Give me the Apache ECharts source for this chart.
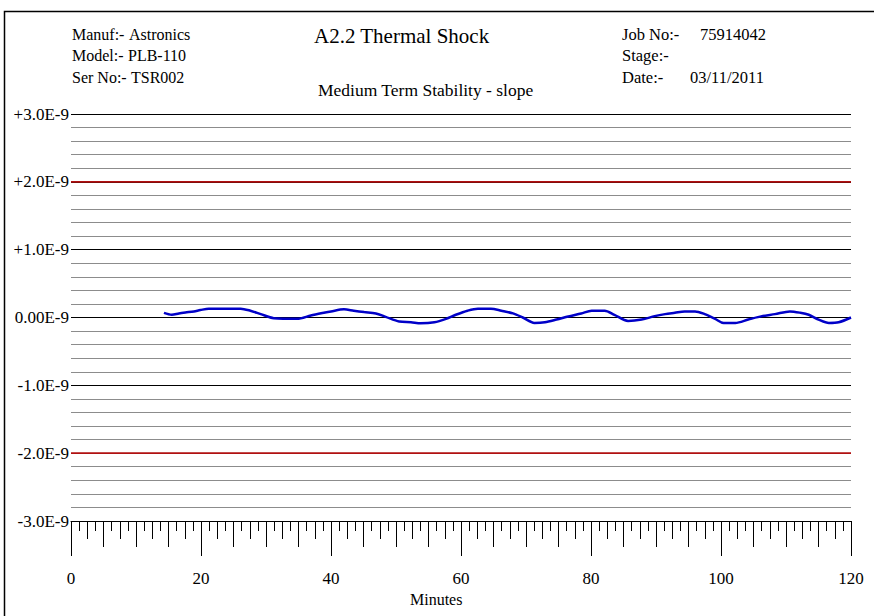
<!DOCTYPE html>
<html>
<head>
<meta charset="utf-8">
<script src="https://cdn.jsdelivr.net/npm/echarts@6/dist/echarts.min.js"></script>
<style>
html,body{margin:0;padding:0;background:#fff;}
#chart{width:874px;height:616px;}
</style>
</head>
<body>
<div id="chart"></div>
<script>
// Data (slope in units of 1E-9)
const minutes = [14.3,15.5,16.6,17.6,18.9,19.9,21.2,26.1,27.6,29.2,31.2,34.8,36.9,38.9,40.0,42.0,43.5,45.1,46.9,48.4,50.5,52.3,53.8,55.9,57.7,59.2,61.0,62.6,64.6,66.2,68.0,69.5,71.3,72.9,74.7,76.5,78.5,80.1,82.1,83.6,85.7,87.8,89.8,91.4,92.9,94.4,96.0,97.5,99.1,100.4,102.2,104.2,106.3,108.3,110.6,112.2,113.5,115.0,116.6,118.1,120.0];
const slopeE9 = [0.068,0.04,0.06,0.074,0.09,0.11,0.13,0.13,0.10,0.05,-0.01,-0.02,0.03,0.07,0.09,0.12,0.10,0.08,0.06,0.01,-0.06,-0.07,-0.085,-0.07,-0.02,0.04,0.10,0.13,0.13,0.10,0.06,0.0,-0.08,-0.07,-0.03,0.015,0.06,0.10,0.10,0.04,-0.05,-0.03,0.02,0.05,0.07,0.09,0.09,0.05,-0.02,-0.08,-0.08,-0.03,0.02,0.05,0.09,0.07,0.04,-0.03,-0.08,-0.07,0.0];
const limitLines = [2, -2];
const xRange = [0, 120];
const yTickLabels = {'3':'+3.0E-9','2':'+2.0E-9','1':'+1.0E-9','0':'0.00E-9','-1':'-1.0E-9','-2':'-2.0E-9','-3':'-3.0E-9'};
const xTickLabels = ['0','20','40','60','80','100','120'];
const headerLeft = [['Manuf:-','Astronics'],['Model:-','PLB-110'],['Ser No:-','TSR002']];
const headerRight = [['Job No:-','75914042'],['Stage:-',''],['Date:-','03/11/2011']];
const chartTitle = 'A2.2 Thermal Shock';
const chartSubtitle = 'Medium Term Stability - slope';
const xName = 'Minutes';

const FONT = 'Liberation Serif';
const chart = echarts.init(document.getElementById('chart'), null, {renderer:'svg'});

const grid = {left:71, right:23, top:114, bottom:95};
function tickAxis(interval, len, showLabel){
  return {
    type:'value', min:0, max:120, interval:interval, position:'bottom', gridIndex:0,
    axisLine:{show:showLabel, onZero:false, lineStyle:{color:'#000', width:1}},
    axisTick:{show:true, length:len, inside:false, lineStyle:{color:'#000', width:1}},
    splitLine:{show:false},
    axisLabel: showLabel ? {show:true, margin:49, color:'#000', fontFamily:FONT, fontSize:17,
      formatter:function(v){ const s=String(v); return xTickLabels.indexOf(s)>=0? s : ''; }} : {show:false}
  };
}

const graphics = [
  {type:'rect', shape:{x:4.5, y:11.5, width:900, height:700}, style:{fill:'none', stroke:'#000', lineWidth:1.5}, silent:true}
];
const rowY = [35, 56, 78];
const HF = '16px ' + FONT;
const HFR = '16.5px ' + FONT;
headerLeft.forEach((r,i)=>{
  graphics.push({type:'text', left:72, top:rowY[i]-9, style:{text:r[0], font:HF, fill:'#000'}});
  graphics.push({type:'text', left:[129,128,131][i], top:rowY[i]-9, style:{text:r[1], font:HF, fill:'#000'}});
});
headerRight.forEach((r,i)=>{
  graphics.push({type:'text', left:622, top:rowY[i]-9, style:{text:r[0], font:HFR, fill:'#000'}});
  if(r[1]) graphics.push({type:'text', left:[700,0,690][i], top:rowY[i]-9, style:{text:r[1], font:HFR, fill:'#000'}});
});
graphics.push({type:'text', left:314, top:25, style:{text:chartTitle, font:'21px '+FONT, fill:'#000'}});
graphics.push({type:'text', left:318, top:81, style:{text:chartSubtitle, font:'17.5px '+FONT, fill:'#000'}});
graphics.push({type:'text', left:410, top:591, style:{text:xName, font:'16px '+FONT, fill:'#000'}});

const limitSeries = limitLines.map(v=>({
  type:'line', xAxisIndex:0, yAxisIndex:0, silent:true, z:4,
  data: xRange.map(x=>[x, v]),
  showSymbol:false, symbol:'none',
  lineStyle:{color:'#b01010', width:1.8}
}));

const option = {
  animation:false,
  backgroundColor:'#fff',
  grid:grid,
  graphic:graphics,
  xAxis:[
    tickAxis(20, 35, true),
    tickAxis(5, 26, false),
    tickAxis(2.5, 18, false),
    tickAxis(1.25, 10, false)
  ],
  yAxis:[{
    type:'value', min:-3, max:3, interval:1,
    axisLine:{show:false}, axisTick:{show:false},
    axisLabel:{margin:2, color:'#000', fontFamily:FONT, fontSize:17,
      formatter:function(v){ return yTickLabels[String(Math.round(v))] || ''; }},
    splitLine:{show:true, lineStyle:{color:'#000', width:1}},
    minorTick:{show:false, splitNumber:5},
    minorSplitLine:{show:true, lineStyle:{color:'#8c8c8c', width:1}}
  }],
  series:limitSeries.concat([{
    type:'line', xAxisIndex:0, yAxisIndex:0,
    data: minutes.map((m,i)=>[m, slopeE9[i]]),
    showSymbol:false, symbol:'none', smooth:0.3,
    lineStyle:{color:'#0000c8', width:2.5},
    clip:false, z:5
  }])
};
chart.setOption(option);
</script>
</body>
</html>
